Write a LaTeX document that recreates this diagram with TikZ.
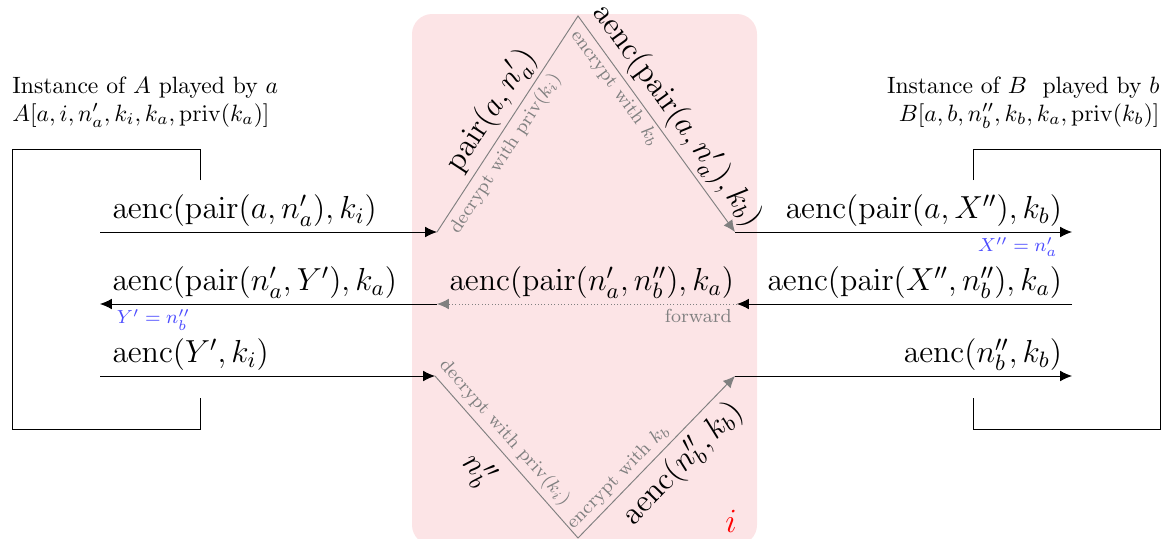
\RequirePackage{fix-cm}
\documentclass[tikz,border=0pt]{standalone}
\usetikzlibrary{arrows.meta}
\definecolor{rosa}{RGB}{252,228,230}
\newcommand{\aenc}{\mathrm{aenc}}
\newcommand{\pair}{\mathrm{pair}}
\newcommand{\priv}{\mathrm{priv}}
\tikzset{
  msg/.style={-{Latex[length=5pt,width=4.5pt]}},
  intr/.style={gray, -{Latex[length=5pt,width=4.5pt]}},
  term/.style={font=\fontsize{13.5}{16}\selectfont, inner sep=2pt},
  obl/.style={term, black, sloped, inner sep=3pt},
  nota/.style={gray, font=\footnotesize, inner sep=2pt},
  vinc/.style={blue!70, font=\footnotesize, inner sep=2pt},
}
\begin{document}
\begin{tikzpicture}[x=0.01489cm, y=-0.01489cm]
    \useasboundingbox (0,0) rectangle (1161,538);
    % Intruso
    \fill[rosa, rounded corners=8.5pt] (412,14) rectangle (757,545);
    \node[red, font=\Large] (ii) at (731,521) {$i$};
    % Punti
    \coordinate (a1) at (100,232); \coordinate (a2) at (100,304); \coordinate (a3) at (100,376);
    \coordinate (il1) at (437,232); \coordinate (il2) at (437,304); \coordinate (il3) at (435,376);
    \coordinate (ir1) at (735,232); \coordinate (ir2) at (737,304); \coordinate (ir3) at (735,376);
    \coordinate (b1) at (1072,232); \coordinate (b2) at (1072,304); \coordinate (b3) at (1072,376);
    \coordinate (top) at (578,16); \coordinate (bot) at (578,538);
    % Istanza A
    \node[anchor=north west, align=left, inner sep=0] (hA) at (12,76)
        {Instance of $A$ played by $a$\\ $A[a,i,n'_a,k_i,k_a,\priv(k_a)]$};
    \draw (200,180) -- (200,149) -- (12,149) -- (12,429) -- (200,429) -- (200,398);
    % Istanza B
    \node[anchor=north east, align=right, inner sep=0] (hB) at (1160,76)
        {Instance of $B$\ \ played by $b$\\ $B[a,b,n''_b,k_b,k_a,\priv(k_b)]$};
    \draw (973,180) -- (973,149) -- (1160,149) -- (1160,429) -- (973,429) -- (973,398);
    % Messaggio 1
    \draw[msg] (a1) -- (il1) node[pos=0, above right, term, xshift=3pt] (m1) {$\aenc(\pair(a,n'_a),k_i)$};
    \draw[intr] (il1) -- (top)
        node[pos=0.51, above, obl, inner sep=2pt] (d1) {$\pair(a,n'_a)$}
        node[pos=0.4, below, sloped, nota] (n1) {decrypt with $\priv(k_i)$}
        -- (ir1)
        node[pos=0.52, above, obl, inner sep=2pt] (e1) {$\aenc(\pair(a,n'_a),k_b)$}
        node[pos=0.3, below, sloped, nota, inner sep=1.5pt] (n2) {encrypt with $k_b$};
    \draw[msg] (ir1) -- (b1) node[pos=1, above left, term, xshift=-2pt] (r1) {$\aenc(\pair(a,X''),k_b)$}
        node[pos=1, below left, vinc, xshift=-4pt] (v1) {$X''=n'_a$};
    % Messaggio 2
    \draw[msg] (b2) -- (ir2) node[pos=0, above left, term, xshift=-2pt] (r2) {$\aenc(\pair(X'',n''_b),k_a)$};
    \draw[intr, densely dotted] (ir2) -- (il2)
        node[midway, above, term, black, xshift=2pt] (f2) {$\aenc(\pair(n'_a,n''_b),k_a)$}
        node[pos=0, below left, nota] (n3) {forward};
    \draw[msg] (il2) -- (a2) node[pos=1, above right, term, xshift=3pt] (m2) {$\aenc(\pair(n'_a,Y'),k_a)$}
        node[pos=1, below right, vinc, xshift=5pt] (v2) {$Y'=n''_b$};
    % Messaggio 3
    \draw[msg] (a3) -- (il3) node[pos=0, above right, term, xshift=3pt] (m3) {$\aenc(Y',k_i)$};
    \draw[intr] (il3) -- (bot)
        node[pos=0.41, above, sloped, nota] (n4) {decrypt with $\priv(k_i)$}
        node[pos=0.46, below, obl, inner sep=6pt] (d3) {$n''_b$}
        -- (ir3)
        node[pos=0.32, above, sloped, nota] (n5) {encrypt with $k_b$}
        node[pos=0.56, below, obl] (e3) {$\aenc(n''_b,k_b)$};
    \draw[msg] (ir3) -- (b3) node[pos=1, above left, term, xshift=-2pt] (r3) {$\aenc(n''_b,k_b)$};
\end{tikzpicture}
\end{document}
